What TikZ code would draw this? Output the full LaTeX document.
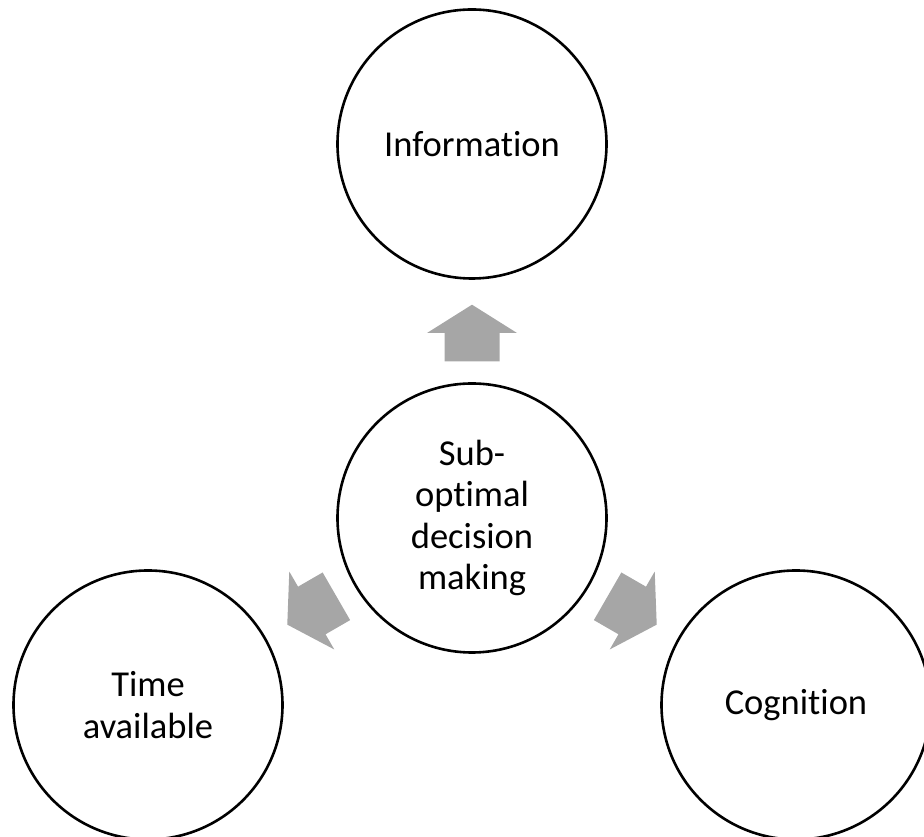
\documentclass[tikz,border=0pt]{standalone}
\usepackage{fontspec}
\setmainfont{Carlito}[Ligatures=CommonOff]
\definecolor{arrowgray}{HTML}{A6A6A6}
\tikzset{
  bubble/.style={circle, draw=black, line width=2.6pt, fill=white, minimum size=269pt, inner sep=0pt,
    align=center, font=\fontsize{36.5}{41.5}\selectfont},
  blockarrow/.pic={\fill[arrowgray] (28.3,0) -- (0,45) -- (0,27.5) -- (-28.4,27.5) -- (-28.4,-27.5) -- (0,-27.5) -- (0,-45) -- cycle;}
}
\begin{document}
\begin{tikzpicture}[x=1pt,y=1pt]
\useasboundingbox (0,0) rectangle (924,837);
\clip (0,0) rectangle (924,837);
\node[bubble] (C) at (472,319) {Sub-\\optimal\\decision\\making};
\node[bubble] (I) at (472,693) {Information};
\node[bubble] (T) at (148,132) {Time\\available};
\node[bubble] (G) at (796,132) {Cognition};
\pic[rotate=90] at ([shift={(90:185)}]C.center) {blockarrow};
\pic[rotate=210] at ([shift={(210:185)}]C.center) {blockarrow};
\pic[rotate=330] at ([shift={(330:185)}]C.center) {blockarrow};
\end{tikzpicture}
\end{document}
